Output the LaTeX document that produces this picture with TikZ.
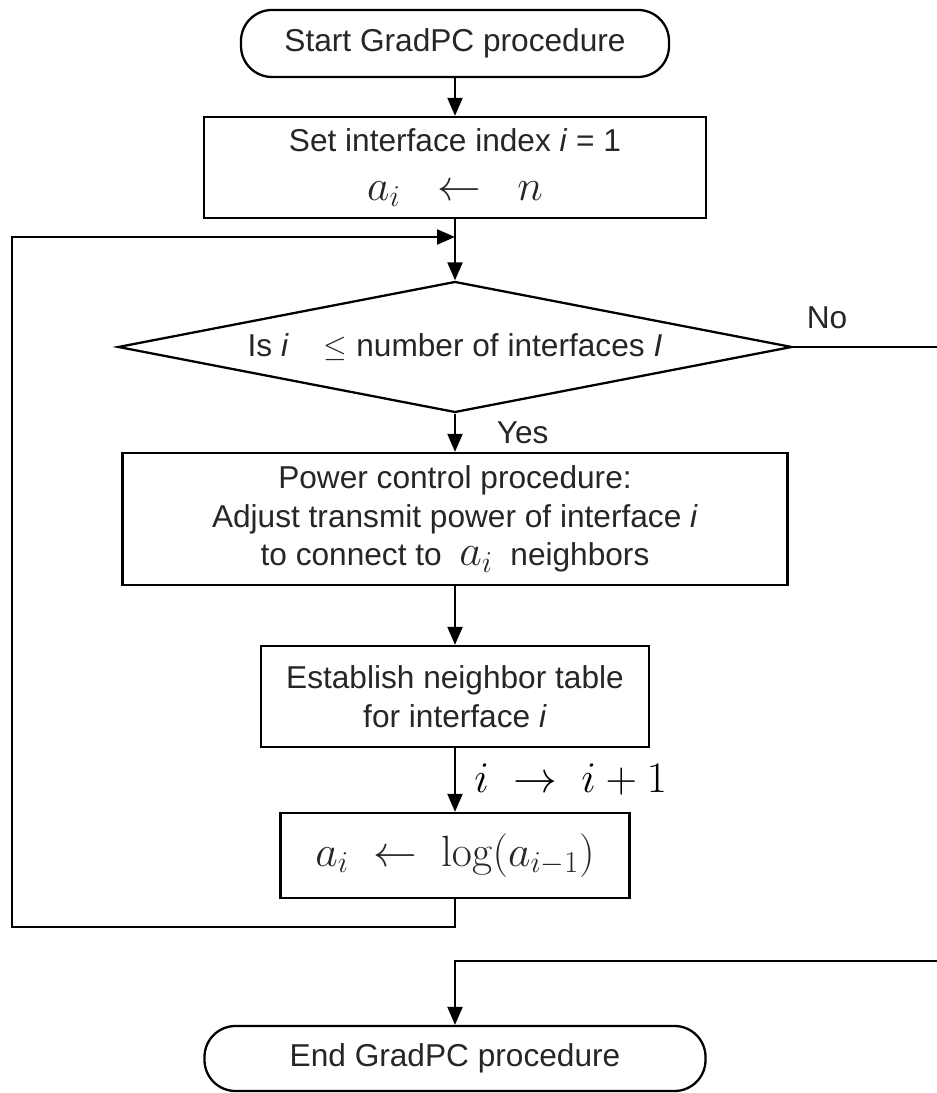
\documentclass[tikz,border=0pt]{standalone}
\usepackage{amsmath,amssymb}
\usepackage[no-math]{fontspec}
\setmainfont{Liberation Sans}
\usetikzlibrary{shapes.geometric,arrows.meta}

\newcommand{\largemath}[1]{{\fontsize{25}{28}\selectfont$#1$}}

\tikzset{
  procbox/.style={draw, line width=1.3pt, rectangle, align=center, text=black!85,
    font=\fontsize{18}{22}\selectfont},
  termbox/.style={procbox, rounded corners=0.62cm},
  decbox/.style={draw, line width=1.3pt, diamond, aspect=5.2, inner sep=0pt,
    text=black!85, font=\fontsize{18}{22}\selectfont},
  flow/.style={line width=1.2pt, -{Triangle[length=0.36cm,width=0.3cm]}},
  plain/.style={line width=1.2pt}
}

\begin{document}
\begin{tikzpicture}
        \useasboundingbox (0,0) rectangle (18.72,21.86);
        % boxes of the procedure
        \node[termbox, minimum width=8.56cm, minimum height=1.34cm] (start) at (9.1,20.99)
        {Start GradPC procedure};
        \node[procbox, minimum width=10.04cm, minimum height=2.02cm] (init) at (9.1,18.51)
        {Set interface index \textit{i} = 1\\[6pt] \largemath{a_i \;\;\leftarrow\;\; n}};
        \coordinate (loopin) at (9.1,17.12);
        \node[decbox, minimum width=13.48cm, minimum height=2.62cm] (test) at (9.1,14.92)
        {Is \textit{i}\;\;\; $\leq$ number of interfaces \textit{I}};
        \node[procbox, minimum width=13.3cm, minimum height=2.64cm] (power) at (9.1,11.48)
        {Power control procedure:\\ Adjust transmit power of interface \textit{i}\\
         to connect to\; \largemath{a_i}\; neighbors};
        \node[procbox, minimum width=7.76cm, minimum height=2.02cm] (table) at (9.1,7.93)
        {Establish neighbor table\\ for interface \textit{i}};
        \node[procbox, minimum width=6.98cm, minimum height=1.7cm] (update) at (9.1,4.75)
        {\largemath{a_i \;\leftarrow\; \log(a_{i-1})}};
        \node[termbox, minimum width=10.02cm, minimum height=1.3cm] (stop) at (9.1,0.69)
        {End GradPC procedure};
        % connectors
        \draw[flow] (start) -- (init);
        \draw[flow] (init) -- (test);
        \draw[flow] (test) -- node[anchor=west, xshift=0.7cm, text=black!85,
          font=\fontsize{18}{22}\selectfont] (yes) {Yes} (power);
        \draw[flow] (power) -- (table);
        \draw[flow] (table) -- node[anchor=west, xshift=0.25cm] (incr)
          {\largemath{i \;\rightarrow\; i+1}} (update);
        % loop back
        \coordinate (loopcorner) at (0.24,3.32);
        \draw[flow] (update.south) |- (loopcorner) |- (loopin);
        % exit branch
        \coordinate (noturn) at (19.0,14.92);
        \coordinate (stopin) at (9.1,2.64);
        \draw[flow] (test.east) -- (noturn) |- (stopin) -- (stop.north);
        \node[text=black!85, font=\fontsize{18}{22}\selectfont] (no) at (16.54,15.5) {No};
\end{tikzpicture}
\end{document}
